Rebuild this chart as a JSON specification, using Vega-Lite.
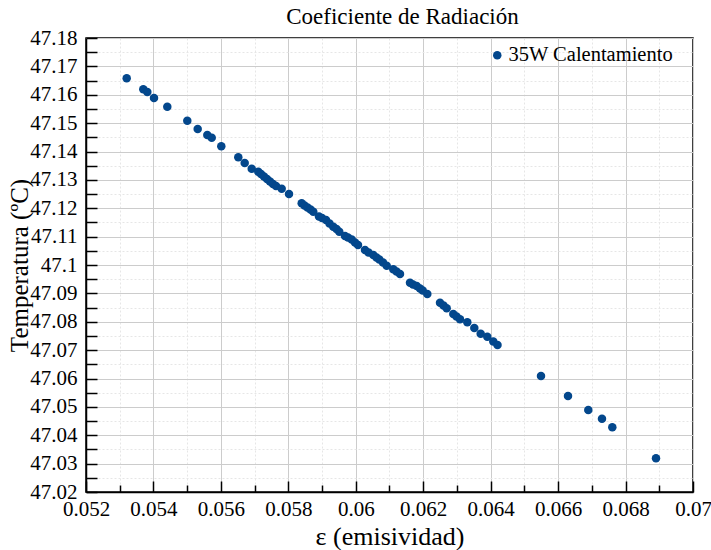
{
  "$schema": "https://vega.github.io/schema/vega-lite/v6.json",
  "width": 607,
  "height": 454,
  "autosize": "none",
  "padding": {"left": 86, "top": 38, "right": 18, "bottom": 58},
  "background": "white",
  "title": {"text": "Coeficiente de Radiación", "font": "Liberation Serif", "fontSize": 23, "fontWeight": "normal", "color": "black", "offset": -2, "anchor": "middle", "dx": 13},
  "config": {
    "view": {"stroke": "black", "strokeWidth": 1.5},
    "font": "Liberation Serif"
  },
  "data": {"values": [
    {"e": 0.053207, "t": 47.16580, "serie": "35W Calentamiento"},
    {"e": 0.053699, "t": 47.16192, "serie": "35W Calentamiento"},
    {"e": 0.053818, "t": 47.16097, "serie": "35W Calentamiento"},
    {"e": 0.054017, "t": 47.15885, "serie": "35W Calentamiento"},
    {"e": 0.054411, "t": 47.15579, "serie": "35W Calentamiento"},
    {"e": 0.055004, "t": 47.15085, "serie": "35W Calentamiento"},
    {"e": 0.055312, "t": 47.14793, "serie": "35W Calentamiento"},
    {"e": 0.055597, "t": 47.14582, "serie": "35W Calentamiento"},
    {"e": 0.055728, "t": 47.14486, "serie": "35W Calentamiento"},
    {"e": 0.056012, "t": 47.14183, "serie": "35W Calentamiento"},
    {"e": 0.056516, "t": 47.13796, "serie": "35W Calentamiento"},
    {"e": 0.056706, "t": 47.13595, "serie": "35W Calentamiento"},
    {"e": 0.056914, "t": 47.13394, "serie": "35W Calentamiento"},
    {"e": 0.057109, "t": 47.13288, "serie": "35W Calentamiento"},
    {"e": 0.057190, "t": 47.13207, "serie": "35W Calentamiento"},
    {"e": 0.057278, "t": 47.13119, "serie": "35W Calentamiento"},
    {"e": 0.057367, "t": 47.13031, "serie": "35W Calentamiento"},
    {"e": 0.057456, "t": 47.12943, "serie": "35W Calentamiento"},
    {"e": 0.057545, "t": 47.12855, "serie": "35W Calentamiento"},
    {"e": 0.057634, "t": 47.12784, "serie": "35W Calentamiento"},
    {"e": 0.057803, "t": 47.12689, "serie": "35W Calentamiento"},
    {"e": 0.058020, "t": 47.12502, "serie": "35W Calentamiento"},
    {"e": 0.058396, "t": 47.12174, "serie": "35W Calentamiento"},
    {"e": 0.058479, "t": 47.12097, "serie": "35W Calentamiento"},
    {"e": 0.058568, "t": 47.12027, "serie": "35W Calentamiento"},
    {"e": 0.058657, "t": 47.11956, "serie": "35W Calentamiento"},
    {"e": 0.058740, "t": 47.11878, "serie": "35W Calentamiento"},
    {"e": 0.058909, "t": 47.11709, "serie": "35W Calentamiento"},
    {"e": 0.058998, "t": 47.11656, "serie": "35W Calentamiento"},
    {"e": 0.059117, "t": 47.11586, "serie": "35W Calentamiento"},
    {"e": 0.059221, "t": 47.11463, "serie": "35W Calentamiento"},
    {"e": 0.059333, "t": 47.11350, "serie": "35W Calentamiento"},
    {"e": 0.059428, "t": 47.11269, "serie": "35W Calentamiento"},
    {"e": 0.059511, "t": 47.11174, "serie": "35W Calentamiento"},
    {"e": 0.059680, "t": 47.11022, "serie": "35W Calentamiento"},
    {"e": 0.059769, "t": 47.10969, "serie": "35W Calentamiento"},
    {"e": 0.059879, "t": 47.10899, "serie": "35W Calentamiento"},
    {"e": 0.059977, "t": 47.10793, "serie": "35W Calentamiento"},
    {"e": 0.060066, "t": 47.10705, "serie": "35W Calentamiento"},
    {"e": 0.060273, "t": 47.10529, "serie": "35W Calentamiento"},
    {"e": 0.060377, "t": 47.10441, "serie": "35W Calentamiento"},
    {"e": 0.060520, "t": 47.10352, "serie": "35W Calentamiento"},
    {"e": 0.060614, "t": 47.10264, "serie": "35W Calentamiento"},
    {"e": 0.060698, "t": 47.10194, "serie": "35W Calentamiento"},
    {"e": 0.060807, "t": 47.10088, "serie": "35W Calentamiento"},
    {"e": 0.060917, "t": 47.09975, "serie": "35W Calentamiento"},
    {"e": 0.061113, "t": 47.09849, "serie": "35W Calentamiento"},
    {"e": 0.061208, "t": 47.09771, "serie": "35W Calentamiento"},
    {"e": 0.061311, "t": 47.09683, "serie": "35W Calentamiento"},
    {"e": 0.061608, "t": 47.09376, "serie": "35W Calentamiento"},
    {"e": 0.061697, "t": 47.09313, "serie": "35W Calentamiento"},
    {"e": 0.061807, "t": 47.09260, "serie": "35W Calentamiento"},
    {"e": 0.061905, "t": 47.09172, "serie": "35W Calentamiento"},
    {"e": 0.061985, "t": 47.09101, "serie": "35W Calentamiento"},
    {"e": 0.062121, "t": 47.08978, "serie": "35W Calentamiento"},
    {"e": 0.062498, "t": 47.08671, "serie": "35W Calentamiento"},
    {"e": 0.062601, "t": 47.08573, "serie": "35W Calentamiento"},
    {"e": 0.062696, "t": 47.08474, "serie": "35W Calentamiento"},
    {"e": 0.062892, "t": 47.08273, "serie": "35W Calentamiento"},
    {"e": 0.062987, "t": 47.08185, "serie": "35W Calentamiento"},
    {"e": 0.063091, "t": 47.08086, "serie": "35W Calentamiento"},
    {"e": 0.063307, "t": 47.07981, "serie": "35W Calentamiento"},
    {"e": 0.063515, "t": 47.07780, "serie": "35W Calentamiento"},
    {"e": 0.063704, "t": 47.07579, "serie": "35W Calentamiento"},
    {"e": 0.063900, "t": 47.07473, "serie": "35W Calentamiento"},
    {"e": 0.064078, "t": 47.07304, "serie": "35W Calentamiento"},
    {"e": 0.064203, "t": 47.07181, "serie": "35W Calentamiento"},
    {"e": 0.065493, "t": 47.06088, "serie": "35W Calentamiento"},
    {"e": 0.066293, "t": 47.05383, "serie": "35W Calentamiento"},
    {"e": 0.066895, "t": 47.04890, "serie": "35W Calentamiento"},
    {"e": 0.067301, "t": 47.04583, "serie": "35W Calentamiento"},
    {"e": 0.067607, "t": 47.04280, "serie": "35W Calentamiento"},
    {"e": 0.068903, "t": 47.03188, "serie": "35W Calentamiento"}
  ]},
  "layer": [
    {
      "mark": {"type": "point", "opacity": 0},
      "encoding": {
        "x": {"field": "e", "type": "quantitative", "scale": {"domain": [0.052, 0.07], "nice": false, "zero": false},
          "axis": {"orient": "bottom", "values": [0.053, 0.055, 0.057, 0.059, 0.061, 0.063, 0.065, 0.067, 0.069], "labels": false, "domain": false, "title": null, "grid": true, "gridColor": "#e6e6e6", "gridDash": [2, 2], "gridWidth": 1, "ticks": true, "tickSize": -7, "tickColor": "black", "tickWidth": 1.5}},
        "y": {"field": "t", "type": "quantitative", "scale": {"domain": [47.02, 47.18], "nice": false, "zero": false},
          "axis": {"orient": "left", "values": [47.025, 47.035, 47.045, 47.055, 47.065, 47.075, 47.085, 47.095, 47.105, 47.115, 47.125, 47.135, 47.145, 47.155, 47.165, 47.175], "labels": false, "domain": false, "title": null, "grid": true, "gridColor": "#e6e6e6", "gridDash": [2, 2], "gridWidth": 1, "ticks": true, "tickSize": -11, "tickColor": "black", "tickWidth": 1.5}}
      }
    },
    {
      "mark": {"type": "circle", "size": 72, "opacity": 1},
      "encoding": {
        "x": {"field": "e", "type": "quantitative", "scale": {"domain": [0.052, 0.07], "nice": false, "zero": false},
          "axis": {"orient": "bottom", "values": [0.052, 0.054, 0.056, 0.058, 0.06, 0.062, 0.064, 0.066, 0.068, 0.07], "format": "~g", "title": "ε (emisividad)", "titleFont": "Liberation Serif", "titleFontSize": 26, "titleFontWeight": "normal", "titleColor": "black", "titlePadding": 4, "labelFont": "Liberation Serif", "labelFontSize": 21, "labelColor": "black", "labelPadding": 17, "labelFlush": false, "grid": true, "gridColor": "#cccccc", "gridWidth": 1, "ticks": true, "tickSize": -11, "tickColor": "black", "tickWidth": 1.5, "domain": true, "domainColor": "black", "domainWidth": 1.5}},
        "y": {"field": "t", "type": "quantitative", "scale": {"domain": [47.02, 47.18], "nice": false, "zero": false},
          "axis": {"orient": "left", "values": [47.02, 47.03, 47.04, 47.05, 47.06, 47.07, 47.08, 47.09, 47.1, 47.11, 47.12, 47.13, 47.14, 47.15, 47.16, 47.17, 47.18], "format": "~g", "title": "Temperatura (ºC)", "titleFont": "Liberation Serif", "titleFontSize": 25, "titleFontWeight": "normal", "titleColor": "black", "titlePadding": -3, "labelFont": "Liberation Serif", "labelFontSize": 21, "labelColor": "black", "labelPadding": 20, "labelFlush": false, "grid": true, "gridColor": "#cccccc", "gridWidth": 1, "ticks": true, "tickSize": -11, "tickColor": "black", "tickWidth": 1.5, "domain": true, "domainColor": "black", "domainWidth": 1.5}},
        "color": {"field": "serie", "type": "nominal", "scale": {"domain": ["35W Calentamiento"], "range": ["#03478c"]},
          "legend": {"title": null, "orient": "none", "legendX": 401, "legendY": 7, "padding": 0, "symbolType": "circle", "symbolSize": 72, "symbolOpacity": 1, "labelFont": "Liberation Serif", "labelFontSize": 20.5, "labelColor": "black", "labelOffset": 1, "labelLimit": 400}}
      }
    }
  ],
  "resolve": {"axis": {"x": "independent", "y": "independent"}}
}
